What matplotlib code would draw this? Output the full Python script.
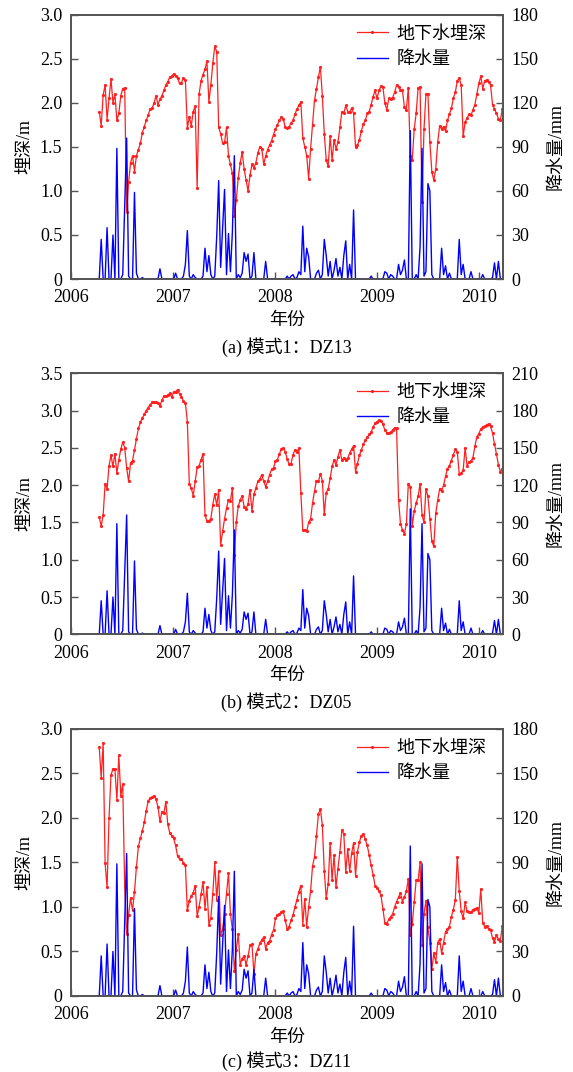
import numpy as np
import pandas as pd
import matplotlib
matplotlib.use("Agg")
import matplotlib.pyplot as plt

# weekly series, first value on 2006-04-13
START_DATE = "2006-04-13"

depth_dz13 = [
    1.90, 1.74, 2.09, 2.20, 1.81, 2.05, 2.27, 2.00, 2.10, 1.80,
    1.88, 2.08, 2.16, 2.17, 0.76, 1.10, 1.32, 1.40, 1.22, 1.40,
    1.47, 1.54, 1.66, 1.73, 1.80, 1.86, 1.93, 1.94, 2.00, 2.08,
    1.98, 2.04, 2.08, 2.14, 2.20, 2.24, 2.29, 2.30, 2.33, 2.30,
    2.28, 2.22, 2.23, 2.28, 2.26, 1.71, 1.84, 1.74, 1.90, 1.96,
    1.03, 2.10, 2.25, 2.32, 2.38, 2.47, 2.01, 2.20, 2.45, 2.64,
    2.58, 1.72, 1.65, 1.54, 1.55, 1.72, 1.40, 1.30, 1.20, 0.71,
    0.90, 1.15, 1.32, 1.44, 1.25, 1.12, 1.00, 1.18, 1.30, 1.26,
    1.32, 1.43, 1.50, 1.48, 1.30, 1.40, 1.47, 1.52, 1.57, 1.64,
    1.70, 1.75, 1.80, 1.84, 1.82, 1.72, 1.71, 1.73, 1.77, 1.80,
    1.87, 1.93, 1.97, 2.01, 1.60, 1.50, 1.40, 1.14, 1.48, 1.75,
    2.03, 2.16, 2.29, 2.41, 2.08, 1.65, 1.35, 1.28, 1.62, 1.35,
    1.58, 1.48, 1.55, 1.72, 1.90, 1.88, 1.97, 1.90, 1.89, 1.94,
    1.88, 1.50, 1.52, 1.58, 1.68, 1.76, 1.80, 1.88, 1.90, 1.98,
    2.07, 2.14, 2.05, 2.14, 2.19, 2.18, 2.00, 1.92, 2.05, 2.04,
    2.06, 2.12, 2.20, 2.18, 2.15, 2.14, 1.95, 1.92, 2.17, 1.40,
    1.35, 1.70, 1.88, 2.17, 2.18, 0.87, 1.70, 2.10, 2.10, 1.55,
    1.22, 1.12, 1.25, 1.55, 1.74, 1.70, 1.73, 1.68, 1.80, 1.87,
    1.94, 2.05, 2.12, 2.25, 2.28, 2.20, 1.62, 1.78, 1.83, 1.87,
    1.86, 1.92, 1.98, 2.10, 2.22, 2.30, 2.16, 2.25, 2.26, 2.24,
    2.20, 1.98, 1.93, 1.88, 1.82, 1.80, 1.93,
]

depth_dz05 = [
    1.57, 1.45, 1.60, 2.02, 1.95, 2.26, 2.40, 2.25, 2.42, 2.16,
    2.34, 2.48, 2.58, 2.50, 2.23, 2.05, 2.30, 2.33, 2.47, 2.62,
    2.76, 2.84, 2.90, 2.95, 3.00, 3.04, 3.08, 3.11, 3.12, 3.11,
    3.10, 3.06, 3.14, 3.19, 3.19, 3.21, 3.23, 3.18, 3.25, 3.25,
    3.28, 3.22, 3.18, 3.13, 3.10, 2.85, 2.02, 1.96, 1.86, 2.05,
    2.24, 2.26, 2.34, 2.42, 1.60, 1.52, 1.52, 1.55, 1.74, 1.88,
    1.73, 1.94, 1.20, 1.38, 1.55, 1.69, 1.80, 1.79, 1.96, 1.06,
    1.50, 1.72, 1.80, 1.86, 1.71, 1.68, 1.75, 1.94, 1.65, 1.88,
    1.96, 2.05, 2.08, 2.14, 2.05, 1.98, 2.05, 2.14, 2.21, 2.23,
    2.32, 2.34, 2.42, 2.48, 2.50, 2.45, 2.35, 2.28, 2.29, 2.41,
    2.47, 2.44, 2.50, 1.89, 1.40, 1.40, 1.38, 1.50, 1.55, 1.76,
    1.92, 2.06, 2.05, 2.15, 2.06, 1.61, 1.90, 1.95, 2.09, 2.25,
    2.34, 2.27, 2.38, 2.47, 2.34, 2.36, 2.34, 2.36, 2.43, 2.48,
    2.53, 2.18, 2.29, 2.40, 2.47, 2.55, 2.60, 2.64, 2.68, 2.71,
    2.78, 2.83, 2.85, 2.87, 2.86, 2.82, 2.74, 2.70, 2.70, 2.71,
    2.74, 2.77, 2.76, 1.80, 1.48, 1.40, 1.35, 1.48, 2.02, 1.98,
    1.45, 1.65, 1.76, 1.85, 2.02, 1.60, 1.50, 1.95, 1.85, 1.55,
    1.25, 1.18, 1.62, 1.80, 1.95, 1.92, 2.00, 2.12, 2.22, 2.26,
    2.33, 2.41, 2.48, 2.45, 2.15, 2.16, 2.20, 2.50, 2.26, 2.31,
    2.32, 2.37, 2.52, 2.65, 2.69, 2.75, 2.78, 2.79, 2.81, 2.82,
    2.79, 2.70, 2.55, 2.42, 2.27, 2.18, 2.22,
]

depth_dz11 = [
    2.79, 2.45, 2.84, 1.49, 1.22, 2.00, 2.48, 2.55, 2.55, 2.20,
    2.70, 2.25, 2.38, 1.22, 0.70, 0.91, 1.10, 0.96, 1.17, 1.45,
    1.68, 1.77, 1.85, 1.95, 2.08, 2.19, 2.22, 2.23, 2.25, 2.21,
    2.12, 1.96, 2.07, 2.05, 2.18, 1.93, 1.83, 1.80, 1.77, 1.69,
    1.57, 1.54, 1.54, 1.49, 1.47, 0.96, 1.07, 1.12, 1.16, 1.24,
    0.90, 1.00, 1.14, 1.28, 0.98, 1.22, 0.80, 0.88, 1.15, 1.50,
    1.08, 1.40, 0.69, 0.75, 0.92, 1.15, 1.38, 0.92, 0.75, 0.28,
    0.52, 0.70, 0.35, 0.42, 0.45, 0.35, 0.45, 0.57, 0.58, 0.25,
    0.47, 0.53, 0.59, 0.63, 0.66, 0.53, 0.60, 0.62, 0.69, 0.74,
    0.87, 0.91, 0.92, 0.94, 0.95, 0.85, 0.75, 0.78, 0.85, 0.91,
    1.00, 1.08, 1.17, 1.24, 0.80, 1.09, 0.78, 1.00, 1.18, 1.46,
    1.56, 1.80, 2.04, 2.10, 1.92, 1.40, 1.10, 1.26, 1.72, 1.30,
    1.58, 1.22, 1.43, 1.62, 1.86, 1.82, 1.39, 1.65, 1.40, 1.60,
    1.72, 1.35, 1.62, 1.73, 1.80, 1.82, 1.76, 1.69, 1.58, 1.47,
    1.36, 1.24, 1.21, 1.18, 1.13, 0.98, 0.82, 0.81, 0.86, 0.89,
    0.92, 1.00, 1.06, 1.11, 1.16, 1.06, 1.11, 1.18, 1.31, 0.68,
    0.81, 1.05, 1.30, 1.30, 1.50, 0.57, 0.92, 1.07, 0.77, 0.60,
    0.30, 0.48, 0.38, 0.60, 0.64, 0.48, 0.60, 0.72, 0.75, 0.78,
    0.89, 0.97, 1.08, 1.56, 1.18, 0.95, 0.87, 1.05, 0.95, 0.94,
    0.94, 0.97, 0.98, 0.99, 0.93, 1.20, 0.82, 0.78, 0.79, 0.75,
    0.74, 0.65, 0.61, 0.68, 0.64, 0.62, 0.79,
]

# precipitation (mm), same rain gauge for all three wells
precip = [
    0, 27, 0, 0, 35, 0, 0, 30, 0, 89,
    0, 0, 3, 50, 96, 2, 0, 0, 59, 4,
    0, 0, 1, 0, 0, 0, 0, 0, 0, 0,
    0, 7, 0, 0, 0, 0, 0, 0, 0, 4,
    0, 0, 0, 2, 10, 33, 2, 0, 3, 1,
    0, 0, 0, 2, 21, 5, 16, 3, 0, 2,
    29, 67, 8, 35, 61, 3, 31, 5, 32, 84,
    0, 3, 1, 4, 18, 12, 17, 0, 2, 18,
    0, 0, 0, 0, 0, 12, 0, 0, 0, 0,
    0, 0, 0, 0, 0, 0, 2, 0, 2, 3,
    0, 1, 5, 3, 36, 5, 21, 15, 0, 0,
    0, 4, 6, 0, 3, 27, 16, 2, 12, 0,
    6, 14, 2, 8, 0, 16, 26, 0, 10, 0,
    47, 0, 0, 0, 0, 0, 0, 0, 0, 2,
    0, 0, 0, 0, 0, 0, 5, 4, 0, 3,
    2, 0, 0, 10, 3, 6, 13, 0, 0, 101,
    0, 0, 3, 0, 22, 89, 2, 5, 65, 60,
    3, 0, 0, 0, 0, 21, 3, 9, 0, 4,
    0, 0, 0, 0, 27, 3, 10, 0, 0, 0,
    5, 0, 0, 0, 0, 0, 3, 0, 0, 0,
    0, 1, 11, 0, 12, 0, 0,
]

captions = ["(a) 模式1：DZ13", "(b) 模式2：DZ05", "(c) 模式3：DZ11"]
year_ticks = [2006, 2007, 2008, 2009, 2010]
depth_ticks_30 = ["0", "0.5", "1.0", "1.5", "2.0", "2.5", "3.0"]
depth_ticks_35 = ["0", "0.5", "1.0", "1.5", "2.0", "2.5", "3.0", "3.5"]
rain_ticks_180 = ["0", "30", "60", "90", "120", "150", "180"]
rain_ticks_210 = ["0", "30", "60", "90", "120", "150", "180", "210"]

plt.rcParams['font.family'] = ['Liberation Serif', 'Noto Sans CJK SC']
plt.rcParams['font.size'] = 13

dates = pd.date_range(START_DATE, periods=len(precip), freq="7D")
days_in_year = np.where(dates.is_leap_year, 366, 365)
t = dates.year + (dates.dayofyear - 1) / days_in_year

panels = [
    (depth_dz13, depth_ticks_30, rain_ticks_180, [0.1234, 0.7397, 0.7537, 0.2466], 0.6763),
    (depth_dz05, depth_ticks_35, rain_ticks_210, [0.1234, 0.4083, 0.7537, 0.2435], 0.3454),
    (depth_dz11, depth_ticks_30, rain_ticks_180, [0.1234, 0.0709, 0.7537, 0.2493], 0.0100),
]

SPINE = "#555555"
FIG_H = 1072
fig = plt.figure(figsize=(5.73, 10.72), dpi=100)

for (depth, lticks, rticks, rect, cap_y), cap in zip(panels, captions):
    ax = fig.add_axes(rect)
    ax2 = ax.twinx()

    l1, = ax.plot(t, depth, color="#ff2020", lw=0.9, marker="o", ms=2.3,
                  mec="none", label="地下水埋深")
    l2, = ax2.plot(t, precip, color="#0000ff", lw=1.0, label="降水量")

    lv = [float(s) for s in lticks]
    rv = [float(s) for s in rticks]
    ax.set_ylim(0, lv[-1])
    ax2.set_ylim(0, rv[-1])
    ax.set_xlim(2006, 2010.23)
    ax.set_yticks(lv)
    ax.set_yticklabels(lticks)
    ax2.set_yticks(rv)
    ax2.set_yticklabels(rticks)
    ax.set_xticks(year_ticks)
    ax.set_xticklabels([str(y) for y in year_ticks])

    for a in (ax, ax2):
        for sp in a.spines.values():
            sp.set_color(SPINE)
            sp.set_linewidth(1.3)
    ax.tick_params(axis="both", direction="in", length=5, width=1, color=SPINE)
    ax.tick_params(axis="y", right=False, pad=6)
    ax.tick_params(axis="x", top=False, pad=7.5)
    ax2.tick_params(axis="y", direction="in", length=5, width=1, color=SPINE, pad=6)

    ax.set_ylabel("埋深/m", labelpad=5)
    ax2.set_ylabel("降水量/mm", labelpad=7)
    ax.set_xlabel("年份")
    # x label sits ~33 px under the axis line
    ax.xaxis.set_label_coords(0.5, -33 / (rect[3] * FIG_H))

    ax2.legend([l1, l2], ["地下水埋深", "降水量"], loc="upper right",
               bbox_to_anchor=(0.963, 0.958), borderaxespad=0, borderpad=0,
               frameon=False, fontsize=13, handlelength=1.7,
               handletextpad=0.5, labelspacing=0.45)

    fig.text(rect[0] + rect[2] / 2, cap_y, cap, ha="center", va="center", fontsize=13)

fig.savefig("out.png", dpi=100)
